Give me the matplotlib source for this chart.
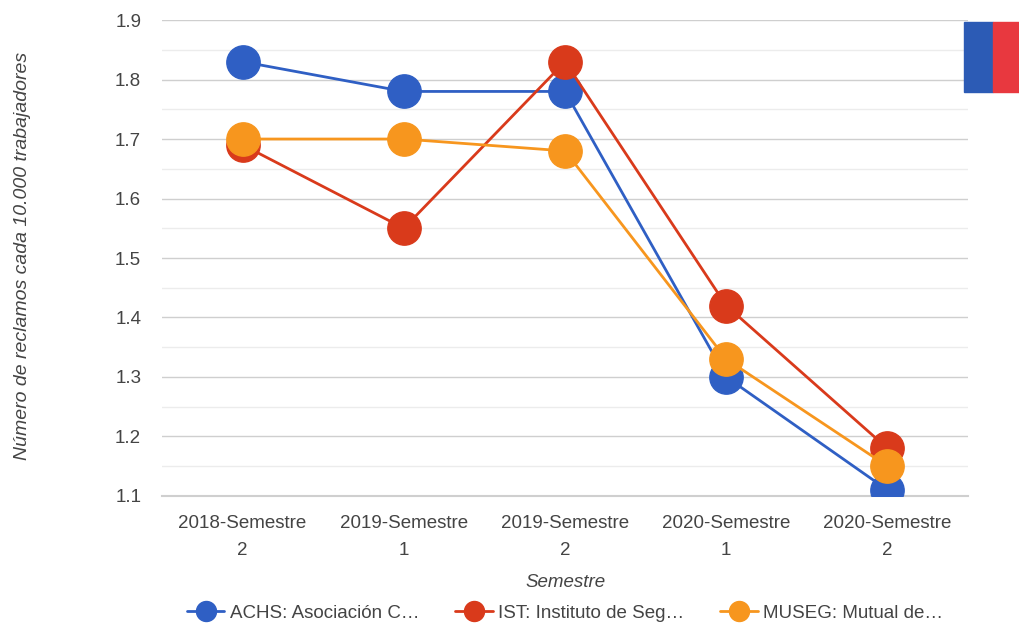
import matplotlib
matplotlib.use("Agg")
import matplotlib.pyplot as plt
from matplotlib.patches import Rectangle
from matplotlib.ticker import MultipleLocator

plt.rcParams['font.family'] = ['Liberation Sans', 'DejaVu Sans']

categories = ["2018-Semestre\n2", "2019-Semestre\n1", "2019-Semestre\n2",
              "2020-Semestre\n1", "2020-Semestre\n2"]
achs = [1.83, 1.78, 1.78, 1.30, 1.11]
ist = [1.69, 1.55, 1.83, 1.42, 1.18]
museg = [1.70, 1.70, 1.68, 1.33, 1.15]
series_names = ["ACHS: Asociación C…", "IST: Instituto de Seg…", "MUSEG: Mutual de…"]
colors = ["#2f5fc4", "#d93a1b", "#f7961e"]
y_ticks = [1.1, 1.2, 1.3, 1.4, 1.5, 1.6, 1.7, 1.8, 1.9]

fig = plt.figure(figsize=(10.19, 6.27), dpi=100)
ax = fig.add_axes([0.159, 0.209, 0.791, 0.759])

x = list(range(len(categories)))
for i, (vals, name, c) in enumerate(zip([achs, ist, museg], series_names, colors)):
    ax.plot(x, vals, color=c, lw=2, marker='o', markersize=24,
            label=name, zorder=3 + i, solid_capstyle='round')

ax.set_xlim(-0.5, len(categories) - 0.5)
ax.set_ylim(1.1, 1.9)
ax.set_yticks(y_ticks)
ax.set_yticklabels([f"{v:.1f}" for v in y_ticks])
ax.yaxis.set_minor_locator(MultipleLocator(0.05))
ax.set_xticks(x)
ax.set_xticklabels(categories, linespacing=1.75)

ax.grid(axis='y', which='major', color='#cfcfcf', lw=1)
ax.grid(axis='y', which='minor', color='#ececec', lw=1)
ax.axhline(1.1, color='#cfcfcf', lw=1.5, clip_on=False, zorder=1)
ax.tick_params(axis='both', which='both', length=0, labelsize=13.5, colors='#444444')
ax.tick_params(axis='y', pad=15)
ax.tick_params(axis='x', pad=14)
for s in ax.spines.values():
    s.set_visible(False)
ax.set_axisbelow(True)

ax.set_ylabel("Número de reclamos cada 10.000 trabajadores", fontsize=14,
              style='italic', color='#444444')
ax.yaxis.set_label_coords(-0.162, 0.505)
ax.set_xlabel("Semestre", fontsize=13.5, style='italic', color='#444444', labelpad=11)

leg = ax.legend(loc='center', bbox_to_anchor=(0.5, -0.246), ncol=3,
                frameon=False, fontsize=13.5, markerscale=0.6,
                handlelength=2.0, columnspacing=1.9, handletextpad=0.3)
for t in leg.get_texts():
    t.set_color('#444444')

# logo-like decoration at the top right
fig.patches.append(Rectangle((964 / 1019, 1 - 92 / 627), 29 / 1019, 70 / 627,
                             transform=fig.transFigure, color='#2c5bb5', zorder=0))
fig.patches.append(Rectangle((993 / 1019, 1 - 92 / 627), 26 / 1019, 70 / 627,
                             transform=fig.transFigure, color='#e8383f', zorder=0))

fig.savefig("out.png", dpi=100, facecolor='white')
